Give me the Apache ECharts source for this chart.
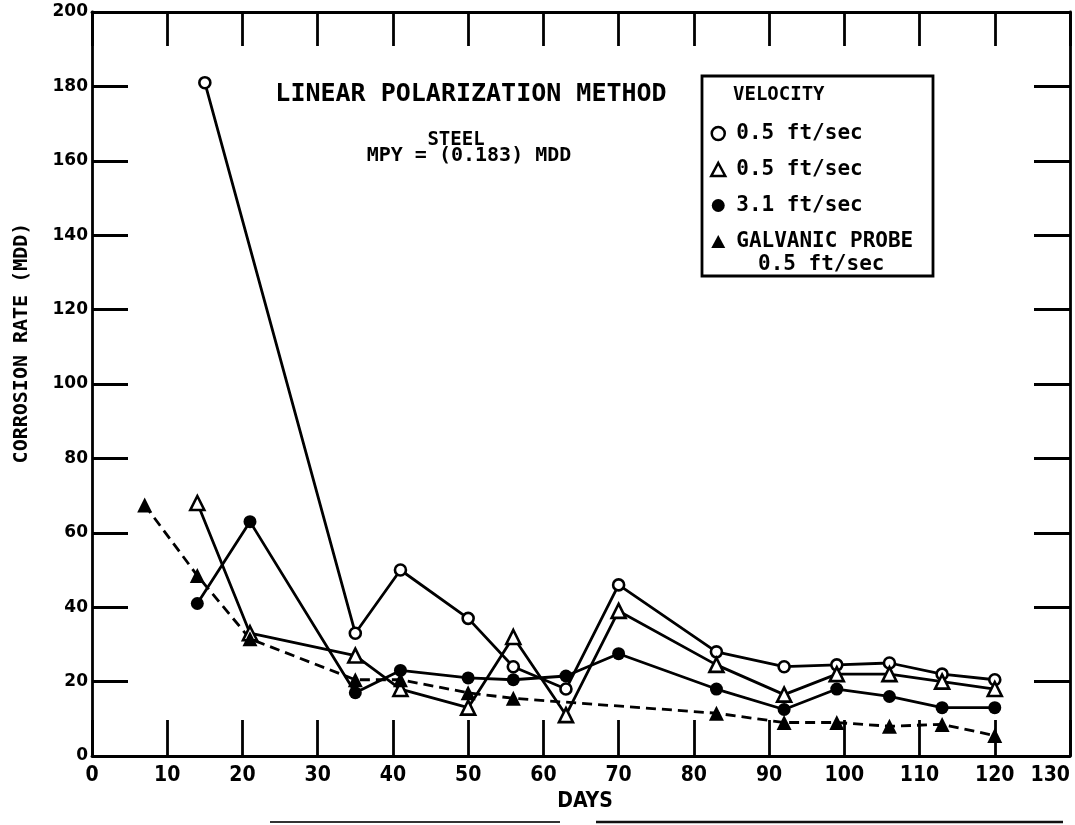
<!DOCTYPE html>
<html><head><meta charset="utf-8">
<script src="https://cdn.jsdelivr.net/npm/echarts@6/dist/echarts.min.js"></script>
<style>html,body{margin:0;padding:0;background:#fff}#c{width:1075px;height:825px}</style>
</head><body><div id="c"></div>
<script>
// ---- data ----
const xMin = 0, xMax = 130, xStep = 10;
const yMin = 0, yMax = 200, yStep = 20;

const seriesNames = ['s1', 's2', 's3', 's4'];
const legendLabels = ['0.5 ft/sec', '0.5 ft/sec', '3.1 ft/sec', 'GALVANIC PROBE'];
const legendSecondLine = '0.5 ft/sec';

const openCircleDays = [15, 35, 41, 50, 56, 63, 70, 83, 92, 99, 106, 113, 120];
const openCircleVals = [181, 33, 50, 37, 24, 18, 46, 28, 24, 24.5, 25, 22, 20.5];

const openTriDays = [14, 21, 35, 41, 50, 56, 63, 70, 83, 92, 99, 106, 113, 120];
const openTriVals = [68, 33, 27, 18, 13, 32, 11, 39, 24.5, 16.5, 22, 22, 20, 18];

const filledCircleDays = [14, 21, 35, 41, 50, 56, 63, 70, 83, 92, 99, 106, 113, 120];
const filledCircleVals = [41, 63, 17, 23, 21, 20.5, 21.5, 27.5, 18, 12.5, 18, 16, 13, 13];

const galvanicDays = [7, 14, 21, 35, 41, 50, 56, 83, 92, 99, 106, 113, 120];
const galvanicVals = [67.5, 48.5, 31.5, 20.5, 20.5, 17, 15.5, 11.5, 9, 9, 8, 8.5, 5.5];

const titleText = 'LINEAR POLARIZATION METHOD';
const subtitle1 = 'STEEL';
const subtitle2 = 'MPY = (0.183) MDD';
const legendHeader = 'VELOCITY';
const yTitle = 'CORROSION RATE (MDD)';
const xTitle = 'DAYS';

// ---- build ----
const zip = (a, b) => a.map((v, i) => [v, b[i]]);
const MONO = '"DejaVu Sans Mono", monospace';
const NARROW = '"Liberation Sans Narrow", "DejaVu Sans Condensed", sans-serif';
const BLACK = '#000';

const axisLine = { onZero: false, lineStyle: { color: BLACK, width: 2.8 } };
const tick = (len) => ({ show: true, inside: true, length: len, lineStyle: { color: BLACK, width: 2.8 } });

const chart = echarts.init(document.getElementById('c'), null, { renderer: 'canvas' });

const lineBase = { type: 'line', xAxisIndex: 0, yAxisIndex: 0, z: 3 };

chart.setOption({
  animation: false,
  backgroundColor: '#fff',
  grid: { left: 92, right: 5, top: 12, bottom: 69, containLabel: false, outerBoundsMode: 'none' },
  xAxis: [
    { type: 'value', min: xMin, max: xMax, interval: xStep, position: 'bottom',
      axisLine, axisTick: tick(36), splitLine: { show: false },
      axisLabel: { color: BLACK, fontFamily: NARROW, fontWeight: 'bold', fontSize: 21, margin: 9, alignMaxLabel: 'right' } },
    { type: 'value', min: xMin, max: xMax, interval: xStep, position: 'top',
      axisLine, axisTick: tick(34), splitLine: { show: false }, axisLabel: { show: false } }
  ],
  yAxis: [
    { type: 'value', min: yMin, max: yMax, interval: yStep, position: 'left',
      axisLine, axisTick: tick(36), splitLine: { show: false },
      axisLabel: { color: BLACK, fontFamily: '"DejaVu Sans", sans-serif', fontWeight: 'bold', fontSize: 17, margin: 4 } },
    { type: 'value', min: yMin, max: yMax, interval: yStep, position: 'right',
      axisLine, axisTick: tick(36), splitLine: { show: false }, axisLabel: { show: false } }
  ],
  legend: {
    orient: 'vertical', left: 710, top: 123, padding: 0, itemWidth: 14, itemHeight: 13, itemGap: 15,
    selectedMode: false,
    formatter: (n) => legendLabels[seriesNames.indexOf(n)],
    textStyle: { color: BLACK, fontFamily: MONO, fontWeight: 'bold', fontSize: 21, padding: [0, 0, 0, 6] },
    data: [
      { name: seriesNames[0], icon: 'circle', itemStyle: { color: '#fff', borderColor: BLACK, borderWidth: 2.5 } },
      { name: seriesNames[1], icon: 'triangle', itemStyle: { color: '#fff', borderColor: BLACK, borderWidth: 2.5 } },
      { name: seriesNames[2], icon: 'circle', itemStyle: { color: BLACK, borderWidth: 0 } },
      { name: seriesNames[3], icon: 'triangle', itemStyle: { color: BLACK, borderWidth: 0 } }
    ]
  },
  series: [
    Object.assign({}, lineBase, { name: seriesNames[0], data: zip(openCircleDays, openCircleVals),
      symbol: 'circle', symbolSize: 11,
      itemStyle: { color: '#fff', borderColor: BLACK, borderWidth: 2.6 },
      lineStyle: { color: BLACK, width: 2.8 } }),
    Object.assign({}, lineBase, { name: seriesNames[1], data: zip(openTriDays, openTriVals),
      symbol: 'triangle', symbolSize: 14,
      itemStyle: { color: '#fff', borderColor: BLACK, borderWidth: 2.6 },
      lineStyle: { color: BLACK, width: 2.8 } }),
    Object.assign({}, lineBase, { name: seriesNames[2], data: zip(filledCircleDays, filledCircleVals),
      symbol: 'circle', symbolSize: 13,
      itemStyle: { color: BLACK, borderWidth: 0 },
      lineStyle: { color: BLACK, width: 2.8 } }),
    Object.assign({}, lineBase, { name: seriesNames[3], data: zip(galvanicDays, galvanicVals),
      symbol: 'triangle', symbolSize: 15,
      itemStyle: { color: BLACK, borderWidth: 0 },
      lineStyle: { color: BLACK, width: 2.8, type: [10, 6] } })
  ],
  graphic: [
    { type: 'rect', shape: { x: 702, y: 76, width: 231, height: 200 },
      style: { fill: 'none', stroke: BLACK, lineWidth: 2.8 }, z: 10 },
    { type: 'text', x: 733, y: 95, z: 10,
      style: { text: legendHeader, font: 'bold 19px ' + MONO, fill: BLACK, align: 'left', textAlign: 'left', verticalAlign: 'middle', textVerticalAlign: 'middle' } },
    { type: 'text', x: 758, y: 265, z: 10,
      style: { text: legendSecondLine, font: 'bold 21px ' + MONO, fill: BLACK, align: 'left', textAlign: 'left', verticalAlign: 'middle', textVerticalAlign: 'middle' } },
    { type: 'text', x: 471, y: 94, z: 10,
      style: { text: titleText, font: 'bold 25px ' + MONO, fill: BLACK, align: 'center', textAlign: 'center', verticalAlign: 'middle', textVerticalAlign: 'middle' } },
    { type: 'text', x: 456, y: 140, z: 10,
      style: { text: subtitle1, font: 'bold 19px ' + MONO, fill: BLACK, align: 'center', textAlign: 'center', verticalAlign: 'middle', textVerticalAlign: 'middle' } },
    { type: 'text', x: 469, y: 156, z: 10,
      style: { text: subtitle2, font: 'bold 20px ' + MONO, fill: BLACK, align: 'center', textAlign: 'center', verticalAlign: 'middle', textVerticalAlign: 'middle' } },
    { type: 'text', x: 22, y: 343, rotation: Math.PI / 2, z: 10,
      style: { text: yTitle, font: 'bold 20px ' + MONO, fill: BLACK, align: 'center', textAlign: 'center', verticalAlign: 'middle', textVerticalAlign: 'middle' } },
    { type: 'text', x: 585, y: 802, z: 10,
      style: { text: xTitle, font: 'bold 21px ' + NARROW, fill: BLACK, align: 'center', textAlign: 'center', verticalAlign: 'middle', textVerticalAlign: 'middle' } },
    { type: 'line', shape: { x1: 270, y1: 822, x2: 560, y2: 822 }, style: { stroke: '#333', lineWidth: 2 } },
    { type: 'line', shape: { x1: 596, y1: 822, x2: 1063, y2: 822 }, style: { stroke: '#111', lineWidth: 2.5 } }
  ]
});
</script>
</body></html>
